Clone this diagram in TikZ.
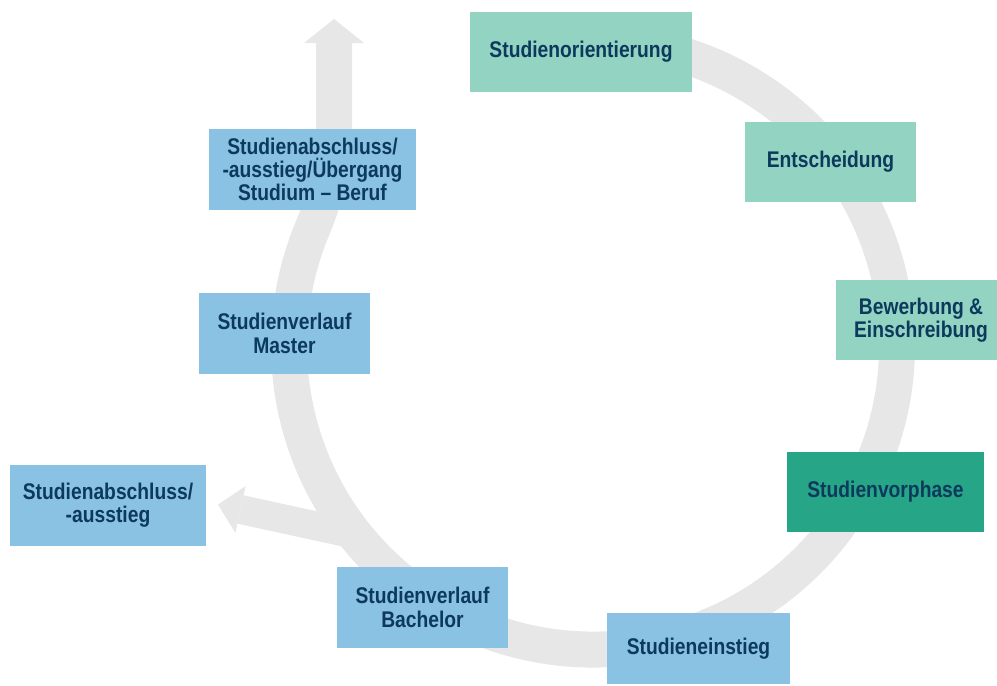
\documentclass[tikz,border=0pt]{standalone}
\usepackage{fontspec}
\newfontfamily\labfont{Liberation Sans}[FakeStretch=0.85]
\definecolor{ringgray}{RGB}{231,231,231}
\definecolor{tealLight}{RGB}{147,211,194}
\definecolor{tealDark}{RGB}{38,166,135}
\definecolor{blueLight}{RGB}{138,194,227}
\definecolor{navy}{RGB}{12,57,92}
\tikzset{
  box/.style={rectangle, inner sep=0pt, align=center, text=navy,
    font=\labfont\bfseries\fontsize{17}{17.5}\selectfont},
  lt/.style={box, fill=tealLight},
  dk/.style={box, fill=tealDark},
  lb/.style={box, fill=blueLight},
  ring/.style={draw=ringgray, line width=27pt},
  branch/.style={draw=ringgray, line width=21.75pt},
}
\begin{document}
\begin{tikzpicture}[x=0.75pt, y=-0.75pt]
\useasboundingbox (0,0) rectangle (997,686);
% ring
\coordinate (rs) at (514.32,51.86);
\coordinate (sh) at (334,128);
\coordinate (st) at (334,43);
\draw[ring] (rs) arc[start angle=255, end angle=563, radius=304]
  .. controls (324.7,199) and (334,165) .. (sh) -- (st);
\fill[ringgray] (304,43) -- (334,19) -- (364,43) -- cycle;
% branch
\coordinate (bj) at (360,535.5);
\coordinate (bb) at (240.5,509.5);
\draw[branch] (bj) -- (bb);
\fill[ringgray] (245.6,486.05) -- (218.0,504.6) -- (235.4,532.95) -- cycle;
% boxes
\node[lt, minimum width=166.5pt, minimum height=60pt] (orient) at (581,52) {Studienorientierung};
\node[lt, minimum width=128.25pt, minimum height=60pt] (entsch) at (830.5,162) {Entscheidung};
\node[lt, minimum width=127.5pt, minimum height=60pt] (bewerb) at (921,320) {Bewerbung \&\\Einschreibung};
\node[dk, minimum width=147.75pt, minimum height=60pt] (vorph) at (885.5,492) {Studienvorphase};
\node[lb, minimum width=137.25pt, minimum height=53.25pt] (einst) at (698.5,648.5) {Studieneinstieg};
\node[lb, minimum width=128.25pt, minimum height=60.75pt] (bach) at (422.5,607.5) {Studienverlauf\\Bachelor};
\node[lb, minimum width=147pt, minimum height=60.75pt] (abs1) at (108,505.5) {Studienabschluss/\\-ausstieg};
\node[lb, minimum width=128.25pt, minimum height=60.75pt] (mast) at (284.5,333.5) {Studienverlauf\\Master};
\node[lb, minimum width=155.25pt, minimum height=60.75pt] (abs2) at (312.5,169.5) {Studienabschluss/\\-ausstieg/Übergang\\Studium – Beruf};
\end{tikzpicture}
\end{document}
